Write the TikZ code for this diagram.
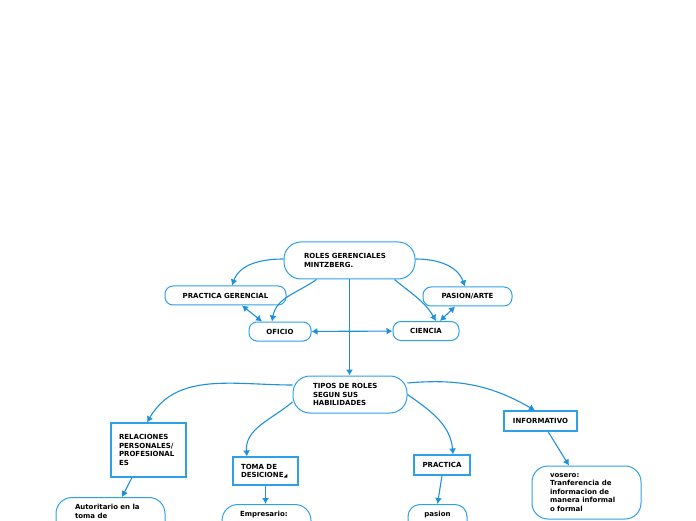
\documentclass[tikz,border=0pt]{standalone}
\usepackage{fontspec}
\setmainfont{DejaVu Sans}
\usetikzlibrary{arrows.meta}
\definecolor{ln}{RGB}{30,145,220}
\definecolor{bd}{RGB}{45,160,230}
\begin{document}
\begin{tikzpicture}[x=1pt,y=1pt,
  font=\fontsize{7}{8.5}\selectfont\bfseries,
  rb/.style={draw=bd,line width=1pt,rounded corners=#1,inner sep=0pt},
  sb/.style={draw=bd,line width=1.1pt,inner sep=0pt},
  ar/.style={draw=ln,line width=1.1pt,-{Latex[length=6pt,width=7pt]}},
  dar/.style={draw=ln,line width=1.1pt,{Latex[length=6pt,width=7pt]}-{Latex[length=6pt,width=7pt]}}]
  \useasboundingbox (0,0) rectangle (696,520);
  \node[rb=17pt, minimum height=37pt, text width=91pt, inner xsep=20pt, align=left] (ro) at (349.5,259.5) {ROLES GERENCIALES\\MINTZBERG.};
  \node[rb=8pt, minimum width=121pt, minimum height=19pt] (pg) at (225.5,224.5) {PRACTICA GERENCIAL};
  \node[rb=8pt, minimum width=89pt, minimum height=19pt] (pa) at (467.5,223.5) {PASION/ARTE};
  \node[rb=8pt, minimum width=62pt, minimum height=19pt] (of) at (280,188.5) {OFICIO};
  \node[rb=8pt, minimum width=66pt, minimum height=19pt] (ci) at (426,189) {CIENCIA};
  \node[rb=17pt, minimum height=37pt, text width=74pt, inner xsep=20pt, align=left] (ti) at (350,125.5) {TIPOS DE ROLES\\SEGUN SUS\\HABILIDADES};
  \node[sb, minimum height=54pt, text width=59pt, inner xsep=8pt, align=left] (re) at (148.5,70) {RELACIONES\\PERSONALES/\\PROFESIONAL\\ES};
  \node[sb, minimum height=28pt, text width=49pt, inner xsep=8pt, align=left] (td) at (265.5,49) {TOMA DE\\DESICIONE{\fontsize{5}{5}\selectfont ◢}};
  \node[sb, minimum width=56pt, minimum height=20pt] (pr) at (442,55) {PRACTICA};
  \node[sb, minimum width=73pt, minimum height=20pt] (inf) at (540.5,99) {INFORMATIVO};
  \node[rb=16pt, minimum height=53pt, text width=73pt, inner xsep=18pt, align=left] (vo) at (586.5,27.5) {vosero:\\Tranferencia de\\informacion de\\manera informal\\o formal};
  \node[rb=16pt, anchor=north, text width=71pt, inner xsep=19pt, inner ysep=7pt, text depth=30pt, align=left] (au) at (110.5,23) {Autoritario en la\\toma de};
  \node[rb=16pt, anchor=north, text width=53pt, inner xsep=18pt, inner ysep=7pt, text depth=30pt, align=left] (em) at (266.5,16) {Empresario:};
  \node[rb=12pt, anchor=north, minimum width=59pt, inner ysep=7pt, text depth=25pt] (pas) at (437.5,16) {pasion};
  \draw[ar] ([yshift=1.5pt]ro.west) to[out=180,in=70] ([xshift=6.5pt]pg.north);
  \draw[ar] ([yshift=1.5pt]ro.east) to[out=0,in=110] ([xshift=-2.5pt]pa.north);
  \draw[ar] ([xshift=-33pt]ro.south) to[out=215,in=80] ([xshift=-8pt]of.north);
  \draw[ar] ([xshift=45pt]ro.south) to[out=-40,in=120] ([xshift=10pt]ci.north);
  \draw[dar] ([xshift=16.5pt]pg.south) -- ([xshift=-18pt]of.north);
  \draw[dar] ([xshift=-12.5pt]pa.south) -- ([xshift=14pt]ci.north);
  \draw[dar] (of) -- (ci);
  \draw[ar] (ro.south) -- (ro.south |- ti.north);
  \draw[ar] ([yshift=9.5pt]ti.west) to[out=180,in=60] ([xshift=-1.5pt]re.north);
  \draw[ar] ([yshift=-7.5pt]ti.west) to[out=220,in=95] ([xshift=-18.5pt]td.north);
  \draw[ar] (ti.east) to[out=-35,in=95] ([xshift=11pt]pr.north);
  \draw[ar] ([yshift=11.5pt]ti.east) to[out=5,in=150] ([xshift=-5.5pt]inf.north);
  \draw[ar] ([xshift=-16.5pt]re.south) -- ([xshift=11.5pt]au.north);
  \draw[ar] (td.south) -- (td.south |- em.north);
  \draw[ar] (pr.south) -- (pas.north);
  \draw[ar] ([xshift=7.5pt]inf.south) -- ([xshift=-17.5pt]vo.north);
\end{tikzpicture}
\end{document}
